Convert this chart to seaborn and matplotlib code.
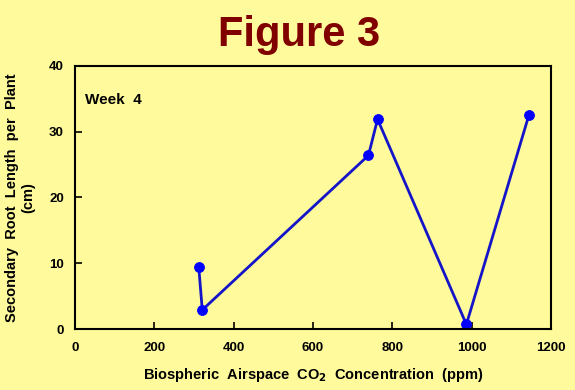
import matplotlib
matplotlib.use("Agg")
import matplotlib.pyplot as plt
import seaborn as sns
import pandas as pd

co2_ppm = [312, 321, 740, 763, 987, 1145]
root_length_cm = [9.5, 2.9, 26.4, 31.9, 0.7, 32.6]
x_ticks = [0, 200, 400, 600, 800, 1000, 1200]
y_ticks = [0, 10, 20, 30, 40]

sns.set_theme(style="white")
plt.rcParams['font.family'] = ['Liberation Sans', 'DejaVu Sans']
plt.rcParams['text.color'] = 'black'
plt.rcParams['axes.labelcolor'] = 'black'
plt.rcParams['xtick.color'] = 'black'
plt.rcParams['ytick.color'] = 'black'

bg = "#FFFA9C"
fig = plt.figure(figsize=(5.75, 3.9), dpi=100, facecolor=bg)
ax = fig.add_axes([0.1304, 0.1564, 0.8276, 0.6744])
ax.set_facecolor(bg)

df = pd.DataFrame({"co2": co2_ppm, "root": root_length_cm})
sns.lineplot(data=df, x="co2", y="root", sort=False, ax=ax,
             color="#1414C8", linewidth=2.0, marker="o", markersize=7,
             markerfacecolor="#0000FF", markeredgecolor="#0000FF")

ax.set_xlim(0, 1200)
ax.set_ylim(0, 40)
ax.set_xticks(x_ticks)
ax.set_yticks(y_ticks)
ax.set_xticklabels([str(t) for t in x_ticks], fontsize=9.5, fontweight="bold")
ax.set_yticklabels([str(t) for t in y_ticks], fontsize=9.5, fontweight="bold")
ax.tick_params(direction="in", length=5, width=1.2, colors="black", pad=8,
               bottom=True, left=True, top=False, right=False)
ax.tick_params(axis="x", pad=9)
for s in ax.spines.values():
    s.set_visible(True)
    s.set_color("black")
    s.set_linewidth(1.5)

ax.set_xlabel("Biospheric  Airspace  CO$_\\mathbf{2}$  Concentration  (ppm)",
              fontsize=10.5, fontweight="bold", labelpad=9)
ax.set_ylabel("Secondary  Root  Length  per  Plant\n(cm)",
              fontsize=10.5, fontweight="bold", labelpad=10, linespacing=1.15)

ax.text(0.022, 0.87, "Week  4", transform=ax.transAxes, fontsize=11,
        fontweight="bold", ha="left", va="center")

fig.text(0.52, 0.91, "Figure 3", fontsize=30, fontweight="bold",
         color="#800000", ha="center", va="center")

fig.savefig("out.png", dpi=100, facecolor=bg)
